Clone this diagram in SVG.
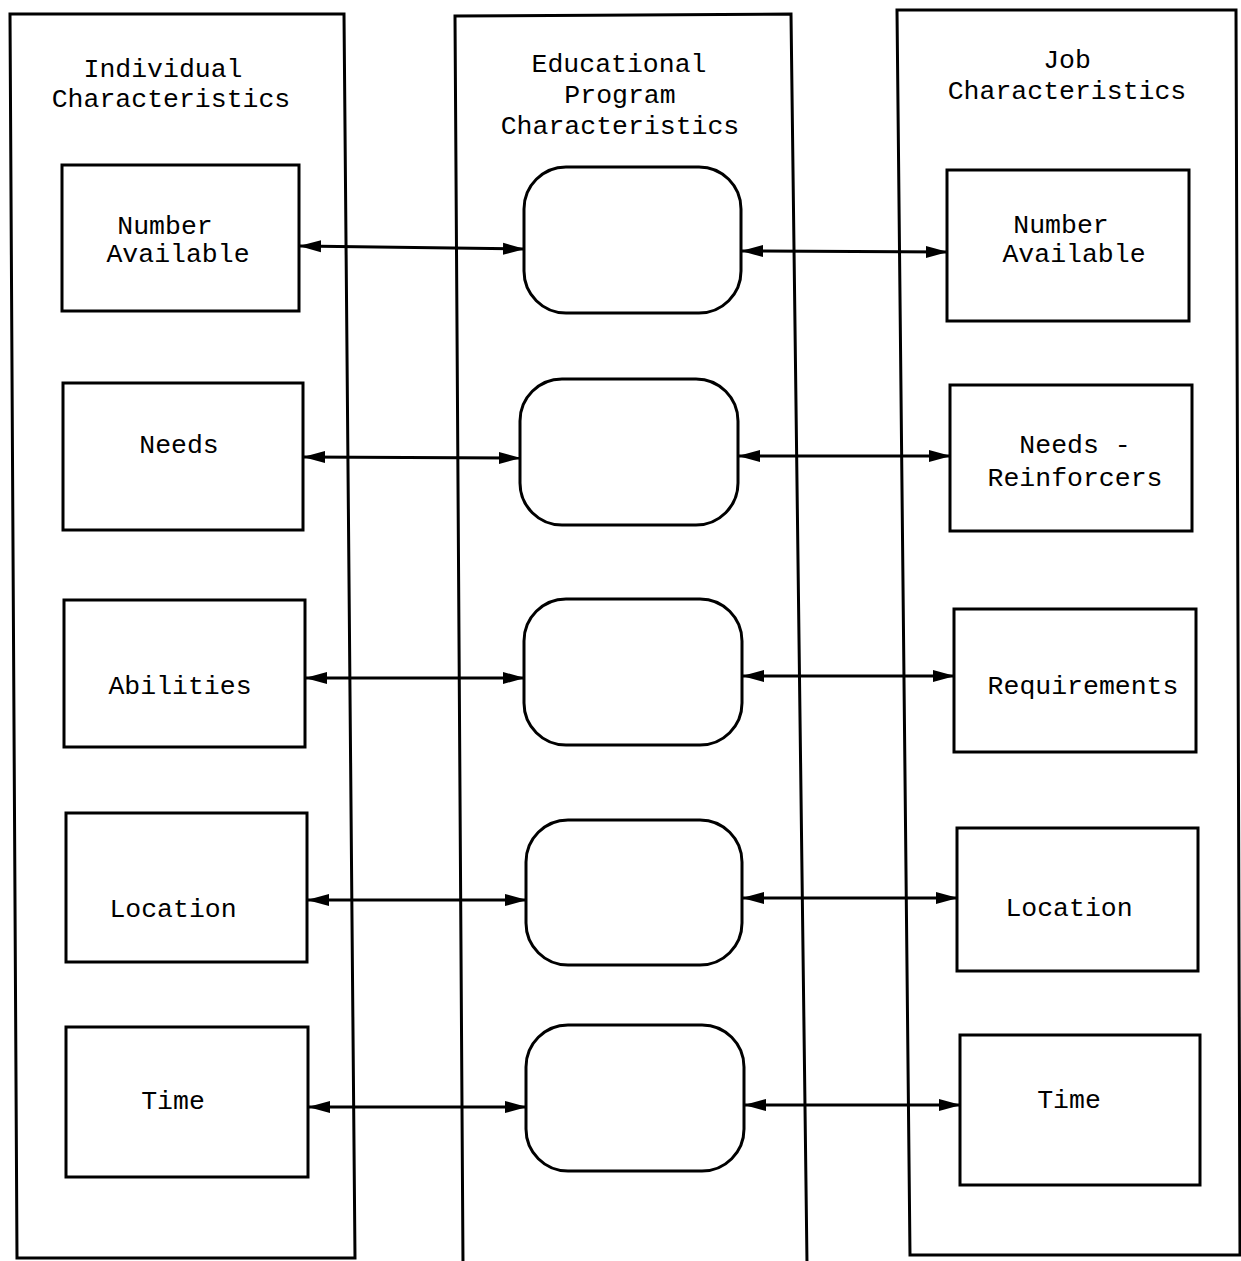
<svg xmlns="http://www.w3.org/2000/svg" width="1241" height="1261" viewBox="0 0 1241 1261">
<style>
.col{fill:none;stroke:#000;stroke-width:3}
.box{fill:#fff;stroke:#000;stroke-width:3}
.t{font-family:"Liberation Mono","DejaVu Sans Mono",monospace;font-size:26.5px;fill:#000;text-anchor:middle}
.c{fill:none;stroke:#000;stroke-width:3;marker-start:url(#ah);marker-end:url(#ah)}
</style>
<defs>
<marker id="ah" viewBox="0 0 22 14" refX="21" refY="7" markerWidth="22" markerHeight="14" markerUnits="userSpaceOnUse" orient="auto-start-reverse">
<path d="M0,1 L22,7 L0,13 Z" fill="#000"/>
</marker>
</defs>
<rect width="1241" height="1261" fill="#fff"/>
<g id="col-individual">
<path class="col" d="M10,14 L344,14 L355,1258 L17,1258 Z"/>
<text class="t" x="163" y="77">Individual</text>
<text class="t" x="171" y="107">Characteristics</text>
</g>
<g id="col-program">
<path class="col" d="M463,1263 L455,16 L791,14 L807,1263"/>
<text class="t" x="619" y="72">Educational</text>
<text class="t" x="620" y="103">Program</text>
<text class="t" x="620" y="134">Characteristics</text>
</g>
<g id="col-job">
<path class="col" d="M910,1255 L897,10 L1236,10 L1240,1255 Z"/>
<text class="t" x="1067" y="68">Job</text>
<text class="t" x="1067" y="99">Characteristics</text>
</g>
<g id="ind-number"><rect class="box" x="62" y="165" width="237" height="146"/><text class="t" x="165" y="234">Number</text><text class="t" x="178" y="262">Available</text></g>
<g id="ind-needs"><rect class="box" x="63" y="383" width="240" height="147"/><text class="t" x="179" y="453">Needs</text></g>
<g id="ind-abilities"><rect class="box" x="64" y="600" width="241" height="147"/><text class="t" x="180" y="694">Abilities</text></g>
<g id="ind-location"><rect class="box" x="66" y="813" width="241" height="149"/><text class="t" x="173" y="917">Location</text></g>
<g id="ind-time"><rect class="box" x="66" y="1027" width="242" height="150"/><text class="t" x="173" y="1109">Time</text></g>
<g id="prog-1"><rect class="box" x="524" y="167" width="217" height="146" rx="42"/></g>
<g id="prog-2"><rect class="box" x="520" y="379" width="218" height="146" rx="42"/></g>
<g id="prog-3"><rect class="box" x="524" y="599" width="218" height="146" rx="42"/></g>
<g id="prog-4"><rect class="box" x="526" y="820" width="216" height="145" rx="42"/></g>
<g id="prog-5"><rect class="box" x="526" y="1025" width="218" height="146" rx="42"/></g>
<g id="job-number"><rect class="box" x="947" y="170" width="242" height="151"/><text class="t" x="1061" y="233">Number</text><text class="t" x="1074" y="262">Available</text></g>
<g id="job-needs"><rect class="box" x="950" y="385" width="242" height="146"/><text class="t" x="1075" y="453">Needs -</text><text class="t" x="1075" y="486">Reinforcers</text></g>
<g id="job-requirements"><rect class="box" x="954" y="609" width="242" height="143"/><text class="t" x="1083" y="694">Requirements</text></g>
<g id="job-location"><rect class="box" x="957" y="828" width="241" height="143"/><text class="t" x="1069" y="916">Location</text></g>
<g id="job-time"><rect class="box" x="960" y="1035" width="240" height="150"/><text class="t" x="1069" y="1108">Time</text></g>
<g id="connectors">
<path class="c" d="M300,246 L524,249"/>
<path class="c" d="M742,251 L947,252"/>
<path class="c" d="M304,457 L520,458"/>
<path class="c" d="M739,456 L950,456"/>
<path class="c" d="M306,678 L524,678"/>
<path class="c" d="M743,676 L954,676"/>
<path class="c" d="M308,900 L526,900"/>
<path class="c" d="M743,898 L957,898"/>
<path class="c" d="M309,1107 L526,1107"/>
<path class="c" d="M745,1105 L960,1105"/>
</g>
</svg>
